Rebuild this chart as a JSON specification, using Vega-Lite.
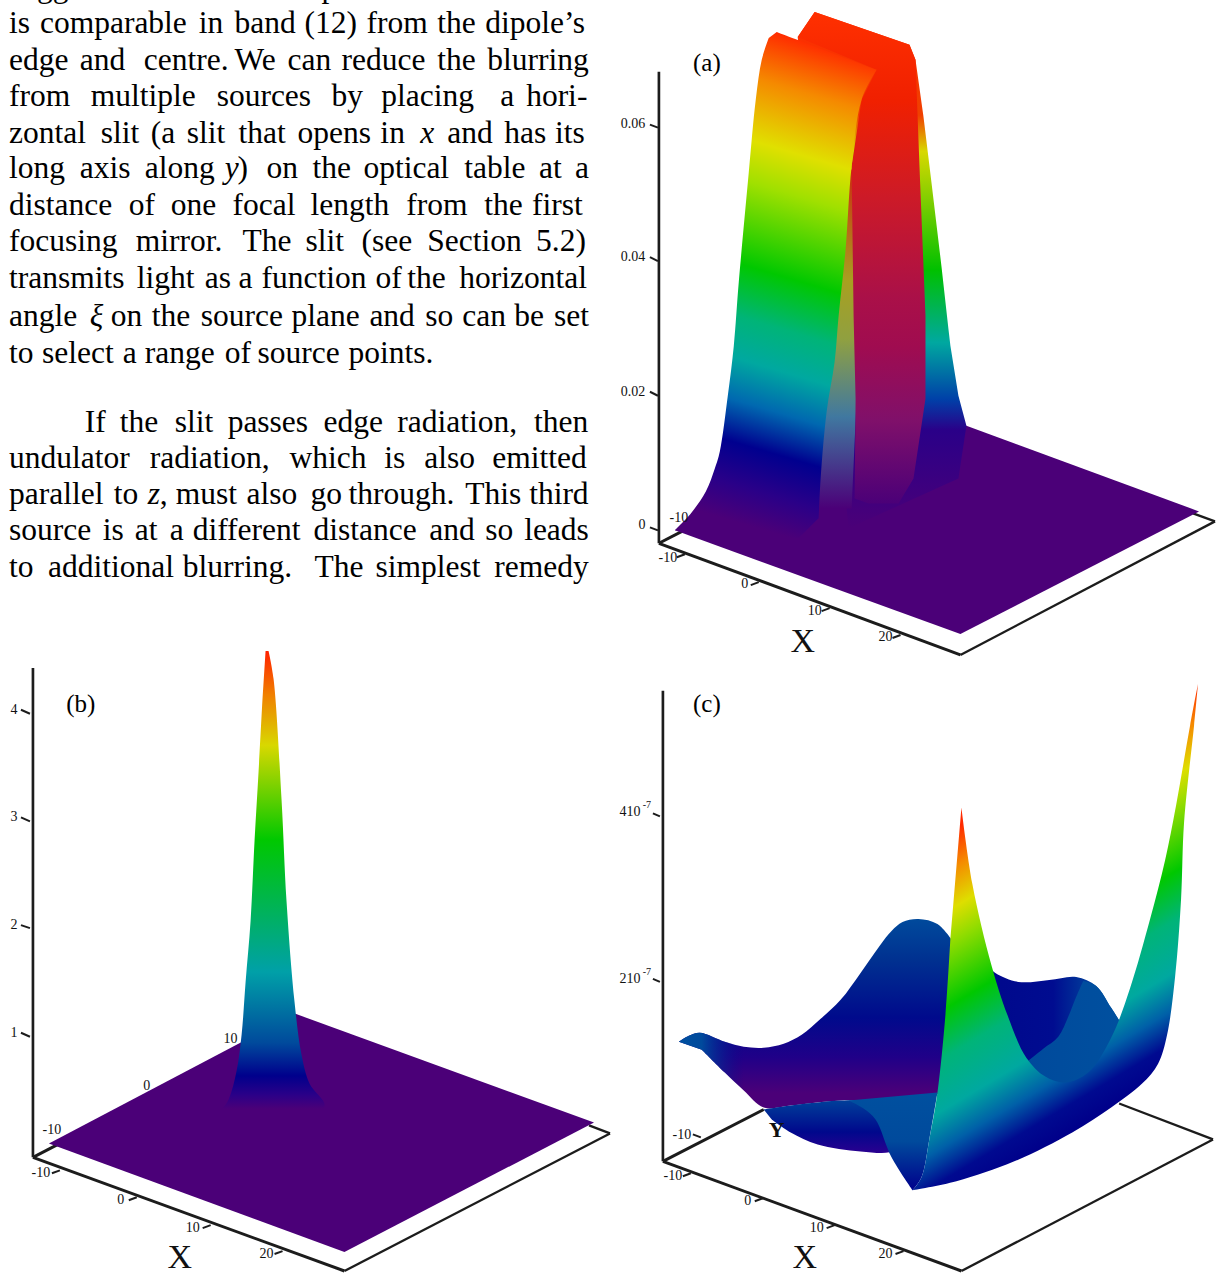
{"$schema":"https://vega.github.io/schema/vega-lite/v6.json","width":1217,"height":1275,"padding":0,"autosize":{"type":"fit","contains":"padding"},"background":"white","view":{"stroke":null},
"datasets":{
"rules":[
{"k":"thick","x":660,"y":545,"x2":962,"y2":657},{"k":"thin","x":962,"y":657,"x2":1217,"y2":523},{"k":"thin","x":1217,"y":523,"x2":1195,"y2":515},{"k":"mid","x":660,"y":72,"x2":660,"y2":545},{"k":"thick","x":660,"y":545,"x2":685,"y2":532},
{"k":"tick","x":651,"y":125,"x2":659,"y2":128},{"k":"tick","x":651,"y":258,"x2":659,"y2":262},{"k":"tick","x":651,"y":393,"x2":659,"y2":397},{"k":"tick","x":651,"y":529,"x2":659,"y2":532},
{"k":"tick","x":678,"y":559,"x2":686,"y2":556},{"k":"tick","x":752,"y":587,"x2":760,"y2":584},{"k":"tick","x":823,"y":613,"x2":831,"y2":610},{"k":"tick","x":894,"y":640,"x2":902,"y2":637},
{"k":"thick","x":33,"y":1161,"x2":345,"y2":1275},{"k":"thin","x":345,"y":1275,"x2":611,"y2":1137},{"k":"thin","x":611,"y":1137,"x2":590,"y2":1129},{"k":"mid","x":33,"y":670,"x2":33,"y2":1161},{"k":"thick","x":33,"y":1161,"x2":60,"y2":1147},
{"k":"tick","x":21,"y":712,"x2":30,"y2":716},{"k":"tick","x":21,"y":820,"x2":30,"y2":824},{"k":"tick","x":21,"y":928,"x2":30,"y2":931},{"k":"tick","x":21,"y":1036,"x2":30,"y2":1040},
{"k":"tick","x":52,"y":1177,"x2":60,"y2":1174},{"k":"tick","x":129,"y":1204,"x2":137,"y2":1201},{"k":"tick","x":203,"y":1232,"x2":211,"y2":1229},{"k":"tick","x":275,"y":1258,"x2":283,"y2":1255},
{"k":"thick","x":664,"y":1165,"x2":963,"y2":1275},{"k":"thin","x":963,"y":1275,"x2":1215,"y2":1143},{"k":"thin","x":1215,"y":1143,"x2":1121,"y2":1107},{"k":"mid","x":664,"y":693,"x2":664,"y2":1165},{"k":"thick","x":664,"y":1165,"x2":765,"y2":1113},
{"k":"tick","x":654,"y":816,"x2":661,"y2":819},{"k":"tick","x":654,"y":982,"x2":661,"y2":985},{"k":"tick","x":694,"y":1138,"x2":702,"y2":1141},
{"k":"tick","x":684,"y":1180,"x2":692,"y2":1177},{"k":"tick","x":756,"y":1205,"x2":764,"y2":1202},{"k":"tick","x":828,"y":1232,"x2":836,"y2":1229},{"k":"tick","x":897,"y":1258,"x2":905,"y2":1255}
],
"shapes":[
{"s":"a_plane","i":0,"x":676,"y":532},{"s":"a_plane","i":1,"x":962,"y":636},{"s":"a_plane","i":2,"x":1201,"y":513},{"s":"a_plane","i":3,"x":968,"y":427},{"s":"a_plane","i":4,"x":780,"y":430},
{"s":"a_back","i":0,"x":799,"y":37},{"s":"a_back","i":1,"x":816,"y":12},{"s":"a_back","i":2,"x":911,"y":45},{"s":"a_back","i":3,"x":917,"y":60},{"s":"a_back","i":4,"x":925,"y":117},{"s":"a_back","i":5,"x":933,"y":183},{"s":"a_back","i":6,"x":943,"y":267},{"s":"a_back","i":7,"x":950,"y":330},{"s":"a_back","i":8,"x":952,"y":347},{"s":"a_back","i":9,"x":960,"y":397},{"s":"a_back","i":10,"x":968,"y":427},{"s":"a_back","i":11,"x":960,"y":480},{"s":"a_back","i":12,"x":850,"y":530},
{"s":"a_lf","i":0,"x":848,"y":170},{"s":"a_lf","i":1,"x":856,"y":170},{"s":"a_lf","i":2,"x":856,"y":317},{"s":"a_lf","i":3,"x":858,"y":400},{"s":"a_lf","i":4,"x":853,"y":510},{"s":"a_lf","i":5,"x":815,"y":510},{"s":"a_lf","i":6,"x":822,"y":400},{"s":"a_lf","i":7,"x":832,"y":317},
{"s":"a_strip","i":0,"x":799,"y":37},{"s":"a_strip","i":1,"x":816,"y":12},{"s":"a_strip","i":2,"x":911,"y":45},{"s":"a_strip","i":3,"x":917,"y":60},{"s":"a_strip","i":4,"x":921,"y":167},{"s":"a_strip","i":5,"x":925,"y":267},{"s":"a_strip","i":6,"x":927,"y":317},{"s":"a_strip","i":7,"x":927,"y":400},{"s":"a_strip","i":8,"x":915,"y":480},{"s":"a_strip","i":9,"x":900,"y":505},{"s":"a_strip","i":10,"x":870,"y":505},{"s":"a_strip","i":11,"x":856,"y":500},{"s":"a_strip","i":12,"x":857,"y":400},{"s":"a_strip","i":13,"x":855,"y":317},{"s":"a_strip","i":14,"x":853,"y":167},{"s":"a_strip","i":15,"x":863,"y":100},{"s":"a_strip","i":16,"x":878,"y":70},
{"s":"a_face","i":0,"x":778,"y":32},{"s":"a_face","i":1,"x":778,"y":32},{"s":"a_face","i":2,"x":878,"y":70},{"s":"a_face","i":3,"x":878,"y":70},{"s":"a_face","i":4,"x":863,"y":100},{"s":"a_face","i":5,"x":853,"y":167},{"s":"a_face","i":6,"x":847,"y":250},{"s":"a_face","i":7,"x":840,"y":317},{"s":"a_face","i":8,"x":836,"y":363},{"s":"a_face","i":9,"x":828,"y":413},{"s":"a_face","i":10,"x":822,"y":480},{"s":"a_face","i":11,"x":820,"y":520},{"s":"a_face","i":12,"x":820,"y":520},{"s":"a_face","i":13,"x":800,"y":540},{"s":"a_face","i":14,"x":800,"y":540},{"s":"a_face","i":15,"x":720,"y":540},{"s":"a_face","i":16,"x":720,"y":540},{"s":"a_face","i":17,"x":676,"y":532},{"s":"a_face","i":18,"x":676,"y":532},{"s":"a_face","i":19,"x":692,"y":515},{"s":"a_face","i":20,"x":707,"y":493},{"s":"a_face","i":21,"x":716,"y":470},{"s":"a_face","i":22,"x":721,"y":453},{"s":"a_face","i":23,"x":729,"y":397},{"s":"a_face","i":24,"x":735,"y":347},{"s":"a_face","i":25,"x":740,"y":283},{"s":"a_face","i":26,"x":750,"y":173},{"s":"a_face","i":27,"x":757,"y":100},{"s":"a_face","i":28,"x":763,"y":60},{"s":"a_face","i":29,"x":770,"y":38},
{"s":"b_plane","i":0,"x":49,"y":1147},{"s":"b_plane","i":1,"x":345,"y":1256},{"s":"b_plane","i":2,"x":595,"y":1126},{"s":"b_plane","i":3,"x":296,"y":1017},
{"s":"b_peak","i":0,"x":266,"y":653},{"s":"b_peak","i":1,"x":266,"y":653},{"s":"b_peak","i":2,"x":269,"y":653},{"s":"b_peak","i":3,"x":269,"y":653},{"s":"b_peak","i":4,"x":274,"y":681},{"s":"b_peak","i":5,"x":282,"y":802},{"s":"b_peak","i":6,"x":287,"y":904},{"s":"b_peak","i":7,"x":295,"y":1005},{"s":"b_peak","i":8,"x":302,"y":1058},{"s":"b_peak","i":9,"x":310,"y":1087},{"s":"b_peak","i":10,"x":325,"y":1110},{"s":"b_peak","i":11,"x":270,"y":1125},{"s":"b_peak","i":12,"x":218,"y":1122},{"s":"b_peak","i":13,"x":229,"y":1103},{"s":"b_peak","i":14,"x":237,"y":1074},{"s":"b_peak","i":15,"x":242,"y":1038},{"s":"b_peak","i":16,"x":246,"y":985},{"s":"b_peak","i":17,"x":251,"y":924},{"s":"b_peak","i":18,"x":255,"y":843},{"s":"b_peak","i":19,"x":259,"y":774},{"s":"b_peak","i":20,"x":263,"y":700},
{"s":"c_back","i":0,"x":680,"y":1045},{"s":"c_back","i":1,"x":680,"y":1045},{"s":"c_back","i":2,"x":690,"y":1039},{"s":"c_back","i":3,"x":701,"y":1036},{"s":"c_back","i":4,"x":726,"y":1045},{"s":"c_back","i":5,"x":745,"y":1050},{"s":"c_back","i":6,"x":765,"y":1051},{"s":"c_back","i":7,"x":785,"y":1047},{"s":"c_back","i":8,"x":803,"y":1038},{"s":"c_back","i":9,"x":822,"y":1022},{"s":"c_back","i":10,"x":842,"y":1003},{"s":"c_back","i":11,"x":862,"y":976},{"s":"c_back","i":12,"x":881,"y":949},{"s":"c_back","i":13,"x":893,"y":934},{"s":"c_back","i":14,"x":904,"y":925},{"s":"c_back","i":15,"x":920,"y":922},{"s":"c_back","i":16,"x":939,"y":927},{"s":"c_back","i":17,"x":952,"y":941},{"s":"c_back","i":18,"x":952,"y":941},{"s":"c_back","i":19,"x":1000,"y":1000},{"s":"c_back","i":20,"x":1000,"y":1000},{"s":"c_back","i":21,"x":980,"y":1095},{"s":"c_back","i":22,"x":980,"y":1095},{"s":"c_back","i":23,"x":939,"y":1098},{"s":"c_back","i":24,"x":881,"y":1104},{"s":"c_back","i":25,"x":842,"y":1104},{"s":"c_back","i":26,"x":792,"y":1109},{"s":"c_back","i":27,"x":765,"y":1111},{"s":"c_back","i":28,"x":745,"y":1094},{"s":"c_back","i":29,"x":726,"y":1076},{"s":"c_back","i":30,"x":703,"y":1053},
{"s":"c_tip","i":0,"x":680,"y":1045},{"s":"c_tip","i":1,"x":680,"y":1045},{"s":"c_tip","i":2,"x":690,"y":1039},{"s":"c_tip","i":3,"x":701,"y":1036},{"s":"c_tip","i":4,"x":726,"y":1045},{"s":"c_tip","i":5,"x":745,"y":1050},{"s":"c_tip","i":6,"x":745,"y":1050},{"s":"c_tip","i":7,"x":745,"y":1094},{"s":"c_tip","i":8,"x":745,"y":1094},{"s":"c_tip","i":9,"x":726,"y":1076},{"s":"c_tip","i":10,"x":703,"y":1053},
{"s":"c_rb","i":0,"x":985,"y":965},{"s":"c_rb","i":1,"x":985,"y":965},{"s":"c_rb","i":2,"x":997,"y":976},{"s":"c_rb","i":3,"x":1020,"y":985},{"s":"c_rb","i":4,"x":1051,"y":983},{"s":"c_rb","i":5,"x":1078,"y":980},{"s":"c_rb","i":6,"x":1098,"y":989},{"s":"c_rb","i":7,"x":1113,"y":1011},{"s":"c_rb","i":8,"x":1125,"y":1030},{"s":"c_rb","i":9,"x":1125,"y":1030},{"s":"c_rb","i":10,"x":1125,"y":1090},{"s":"c_rb","i":11,"x":1125,"y":1090},{"s":"c_rb","i":12,"x":1047,"y":1100},{"s":"c_rb","i":13,"x":1047,"y":1100},{"s":"c_rb","i":14,"x":1010,"y":1040},{"s":"c_rb","i":15,"x":1000,"y":1020},
{"s":"c_wedge","i":0,"x":1030,"y":1064},{"s":"c_wedge","i":1,"x":1030,"y":1064},{"s":"c_wedge","i":2,"x":1045,"y":1052},{"s":"c_wedge","i":3,"x":1060,"y":1040},{"s":"c_wedge","i":4,"x":1070,"y":1020},{"s":"c_wedge","i":5,"x":1078,"y":1000},{"s":"c_wedge","i":6,"x":1085,"y":984},{"s":"c_wedge","i":7,"x":1085,"y":984},{"s":"c_wedge","i":8,"x":1098,"y":989},{"s":"c_wedge","i":9,"x":1113,"y":1011},{"s":"c_wedge","i":10,"x":1125,"y":1030},{"s":"c_wedge","i":11,"x":1125,"y":1030},{"s":"c_wedge","i":12,"x":1125,"y":1090},{"s":"c_wedge","i":13,"x":1125,"y":1090},{"s":"c_wedge","i":14,"x":1047,"y":1100},{"s":"c_wedge","i":15,"x":1047,"y":1100},
{"s":"c_bowl","i":0,"x":765,"y":1113},{"s":"c_bowl","i":1,"x":765,"y":1113},{"s":"c_bowl","i":2,"x":792,"y":1109},{"s":"c_bowl","i":3,"x":842,"y":1104},{"s":"c_bowl","i":4,"x":880,"y":1104},{"s":"c_bowl","i":5,"x":880,"y":1104},{"s":"c_bowl","i":6,"x":905,"y":1150},{"s":"c_bowl","i":7,"x":905,"y":1150},{"s":"c_bowl","i":8,"x":891,"y":1156},{"s":"c_bowl","i":9,"x":862,"y":1155},{"s":"c_bowl","i":10,"x":819,"y":1148},{"s":"c_bowl","i":11,"x":792,"y":1136},{"s":"c_bowl","i":12,"x":773,"y":1123},
{"s":"c_flap","i":0,"x":850,"y":1104},{"s":"c_flap","i":1,"x":850,"y":1104},{"s":"c_flap","i":2,"x":865,"y":1112},{"s":"c_flap","i":3,"x":877,"y":1123},{"s":"c_flap","i":4,"x":893,"y":1161},{"s":"c_flap","i":5,"x":914,"y":1194},{"s":"c_flap","i":6,"x":914,"y":1194},{"s":"c_flap","i":7,"x":923,"y":1181},{"s":"c_flap","i":8,"x":931,"y":1142},{"s":"c_flap","i":9,"x":939,"y":1096},{"s":"c_flap","i":10,"x":939,"y":1096},
{"s":"c_front","i":0,"x":963,"y":810},{"s":"c_front","i":1,"x":963,"y":810},{"s":"c_front","i":2,"x":974,"y":887},{"s":"c_front","i":3,"x":993,"y":968},{"s":"c_front","i":4,"x":1009,"y":1018},{"s":"c_front","i":5,"x":1028,"y":1061},{"s":"c_front","i":6,"x":1047,"y":1080},{"s":"c_front","i":7,"x":1067,"y":1086},{"s":"c_front","i":8,"x":1090,"y":1076},{"s":"c_front","i":9,"x":1113,"y":1041},{"s":"c_front","i":10,"x":1132,"y":991},{"s":"c_front","i":11,"x":1152,"y":922},{"s":"c_front","i":12,"x":1167,"y":863},{"s":"c_front","i":13,"x":1178,"y":808},{"s":"c_front","i":14,"x":1192,"y":728},{"s":"c_front","i":15,"x":1200,"y":686},{"s":"c_front","i":16,"x":1200,"y":686},{"s":"c_front","i":17,"x":1196,"y":728},{"s":"c_front","i":18,"x":1186,"y":825},{"s":"c_front","i":19,"x":1183,"y":902},{"s":"c_front","i":20,"x":1177,"y":980},{"s":"c_front","i":21,"x":1169,"y":1038},{"s":"c_front","i":22,"x":1160,"y":1067},{"s":"c_front","i":23,"x":1144,"y":1087},{"s":"c_front","i":24,"x":1113,"y":1111},{"s":"c_front","i":25,"x":1074,"y":1136},{"s":"c_front","i":26,"x":1016,"y":1165},{"s":"c_front","i":27,"x":958,"y":1185},{"s":"c_front","i":28,"x":914,"y":1194},{"s":"c_front","i":29,"x":914,"y":1194},{"s":"c_front","i":30,"x":923,"y":1181},{"s":"c_front","i":31,"x":931,"y":1142},{"s":"c_front","i":32,"x":939,"y":1096},{"s":"c_front","i":33,"x":947,"y":1018},{"s":"c_front","i":34,"x":952,"y":941}
],
"labels":[
{"k":"tick","t":"0.06","x":634,"y":124},{"k":"tick","t":"0.04","x":634,"y":258},{"k":"tick","t":"0.02","x":634,"y":393},{"k":"tick","t":"0","x":643,"y":527},{"k":"tick","t":"-10","x":680,"y":520},{"k":"tick","t":"-10","x":669,"y":560},{"k":"tick","t":"0","x":746,"y":586},{"k":"tick","t":"10","x":816,"y":613},{"k":"tick","t":"20","x":887,"y":639},
{"k":"tick","t":"4","x":14,"y":712},{"k":"tick","t":"3","x":14,"y":820},{"k":"tick","t":"2","x":14,"y":928},{"k":"tick","t":"1","x":14,"y":1036},{"k":"tick","t":"10","x":231,"y":1042},{"k":"tick","t":"0","x":147,"y":1089},{"k":"tick","t":"-10","x":52,"y":1134},{"k":"tick","t":"-10","x":41,"y":1177},{"k":"tick","t":"0","x":121,"y":1204},{"k":"tick","t":"10","x":193,"y":1232},{"k":"tick","t":"20","x":267,"y":1258},
{"k":"tick","t":"410","x":631,"y":815},{"k":"tick","t":"210","x":631,"y":982},{"k":"tick","t":"-10","x":683,"y":1139},{"k":"tick","t":"-10","x":674,"y":1180},{"k":"tick","t":"0","x":749,"y":1205},{"k":"tick","t":"10","x":818,"y":1232},{"k":"tick","t":"20","x":887,"y":1258},
{"k":"sup","t":"-7","x":648,"y":808},{"k":"sup","t":"-7","x":648,"y":975},
{"k":"panel","t":"(a)","x":708,"y":63},{"k":"panel","t":"(b)","x":81,"y":706},{"k":"panel","t":"(c)","x":708,"y":706},
{"k":"axis","t":"X","x":804,"y":644},{"k":"axis","t":"X","x":180,"y":1262},{"k":"axis","t":"X","x":806,"y":1262},{"k":"axisY","t":"Y","x":778,"y":1134}
],
"words":[
{"t":"suggest","x":9,"y":-4},{"t":"point","x":322,"y":-4},
{"t":"is","x":9,"y":32},{"t":"comparable","x":40,"y":32},{"t":"in","x":199,"y":32},{"t":"band","x":235,"y":32},{"t":"(12)","x":305,"y":32},{"t":"from","x":367,"y":32},{"t":"the","x":438,"y":32},{"t":"dipole’s","x":486,"y":32},
{"t":"edge","x":9,"y":69},{"t":"and","x":80,"y":69},{"t":"centre.","x":144,"y":69},{"t":"We","x":235,"y":69},{"t":"can","x":288,"y":69},{"t":"reduce","x":342,"y":69},{"t":"the","x":438,"y":69},{"t":"blurring","x":488,"y":69},
{"t":"from","x":9,"y":105},{"t":"multiple","x":91,"y":105},{"t":"sources","x":217,"y":105},{"t":"by","x":332,"y":105},{"t":"placing","x":382,"y":105},{"t":"a","x":501,"y":105},{"t":"hori-","x":527,"y":105},
{"t":"zontal","x":9,"y":142},{"t":"slit","x":101,"y":142},{"t":"(a","x":151,"y":142},{"t":"slit","x":187,"y":142},{"t":"that","x":239,"y":142},{"t":"opens","x":298,"y":142},{"t":"in","x":381,"y":142},{"t":"x","x":421,"y":142,"i":1},{"t":"and","x":448,"y":142},{"t":"has","x":505,"y":142},{"t":"its","x":556,"y":142},
{"t":"long","x":9,"y":178},{"t":"axis","x":80,"y":178},{"t":"along","x":145,"y":178},{"t":"y","x":225,"y":178,"i":1},{"t":")","x":238,"y":178},{"t":"on","x":267,"y":178},{"t":"the","x":313,"y":178},{"t":"optical","x":364,"y":178},{"t":"table","x":465,"y":178},{"t":"at","x":540,"y":178},{"t":"a","x":576,"y":178},
{"t":"distance","x":9,"y":215},{"t":"of","x":129,"y":215},{"t":"one","x":171,"y":215},{"t":"focal","x":233,"y":215},{"t":"length","x":311,"y":215},{"t":"from","x":407,"y":215},{"t":"the","x":485,"y":215},{"t":"first","x":533,"y":215},
{"t":"focusing","x":9,"y":251},{"t":"mirror.","x":136,"y":251},{"t":"The","x":243,"y":251},{"t":"slit","x":306,"y":251},{"t":"(see","x":362,"y":251},{"t":"Section","x":428,"y":251},{"t":"5.2)","x":537,"y":251},
{"t":"transmits","x":9,"y":288},{"t":"light","x":137,"y":288},{"t":"as","x":205,"y":288},{"t":"a","x":239,"y":288},{"t":"function","x":262,"y":288},{"t":"of","x":376,"y":288},{"t":"the","x":408,"y":288},{"t":"horizontal","x":460,"y":288},
{"t":"angle","x":9,"y":326},{"t":"ξ","x":90,"y":326,"i":1},{"t":"on","x":111,"y":326},{"t":"the","x":152,"y":326},{"t":"source","x":201,"y":326},{"t":"plane","x":292,"y":326},{"t":"and","x":370,"y":326},{"t":"so","x":426,"y":326},{"t":"can","x":463,"y":326},{"t":"be","x":515,"y":326},{"t":"set","x":555,"y":326},
{"t":"to","x":9,"y":363},{"t":"select","x":42,"y":363},{"t":"a","x":123,"y":363},{"t":"range","x":145,"y":363},{"t":"of","x":225,"y":363},{"t":"source","x":258,"y":363},{"t":"points.","x":349,"y":363},
{"t":"If","x":85,"y":432},{"t":"the","x":120,"y":432},{"t":"slit","x":175,"y":432},{"t":"passes","x":228,"y":432},{"t":"edge","x":324,"y":432},{"t":"radiation,","x":398,"y":432},{"t":"then","x":535,"y":432},
{"t":"undulator","x":9,"y":468},{"t":"radiation,","x":150,"y":468},{"t":"which","x":290,"y":468},{"t":"is","x":385,"y":468},{"t":"also","x":425,"y":468},{"t":"emitted","x":493,"y":468},
{"t":"parallel","x":9,"y":505},{"t":"to","x":114,"y":505},{"t":"z","x":148,"y":505,"i":1},{"t":",","x":160,"y":505},{"t":"must","x":176,"y":505},{"t":"also","x":247,"y":505},{"t":"go","x":311,"y":505},{"t":"through.","x":349,"y":505},{"t":"This","x":466,"y":505},{"t":"third","x":530,"y":505},
{"t":"source","x":9,"y":541},{"t":"is","x":103,"y":541},{"t":"at","x":135,"y":541},{"t":"a","x":170,"y":541},{"t":"different","x":193,"y":541},{"t":"distance","x":314,"y":541},{"t":"and","x":430,"y":541},{"t":"so","x":486,"y":541},{"t":"leads","x":525,"y":541},
{"t":"to","x":9,"y":578},{"t":"additional","x":48,"y":578},{"t":"blurring.","x":183,"y":578},{"t":"The","x":315,"y":578},{"t":"simplest","x":376,"y":578},{"t":"remedy","x":495,"y":578}
]},
"encoding":{"x":{"field":"x","type":"quantitative","scale":{"domain":[0,1217]},"axis":null},"y":{"field":"y","type":"quantitative","scale":{"domain":[1275,0]},"axis":null}},
"layer":[
{"data":{"name":"rules"},"mark":{"type":"rule","color":"#1c1c1c"},"encoding":{"x2":{"field":"x2"},"y2":{"field":"y2"},"strokeWidth":{"field":"k","type":"nominal","scale":{"domain":["thick","mid","thin","tick"],"range":[3,2,1.5,1.2]},"legend":null}}},
{"data":{"name":"shapes"},"transform":[{"filter":"datum.s==='a_plane'"}],"mark":{"type":"line","fill":"#4b0078","strokeWidth":0},"encoding":{"order":{"field":"i"}}},
{"data":{"name":"shapes"},"transform":[{"filter":"datum.s==='a_back'"}],"mark":{"type":"line","strokeWidth":0,"fill":{"gradient":"linear","x1":0,"y1":0,"x2":0,"y2":1,"stops":[{"offset":0,"color":"#ff2a00"},{"offset":0.2,"color":"#f04000"},{"offset":0.27,"color":"#d8d800"},{"offset":0.5,"color":"#00c000"},{"offset":0.64,"color":"#00a8a0"},{"offset":0.75,"color":"#0040a8"},{"offset":0.81,"color":"#2a0088"},{"offset":1,"color":"#4b0078"}]}},"encoding":{"order":{"field":"i"}}},
{"data":{"name":"shapes"},"transform":[{"filter":"datum.s==='a_lf'"}],"mark":{"type":"line","strokeWidth":0,"fill":{"gradient":"linear","x1":0,"y1":0,"x2":0,"y2":1,"stops":[{"offset":0,"color":"#cc2a10"},{"offset":0.33,"color":"#a8a020"},{"offset":0.5,"color":"#90a040"},{"offset":0.73,"color":"#4078a0"},{"offset":1,"color":"#4b0078"}]}},"encoding":{"order":{"field":"i"}}},
{"data":{"name":"shapes"},"transform":[{"filter":"datum.s==='a_strip'"}],"mark":{"type":"line","strokeWidth":0,"fill":{"gradient":"linear","x1":0,"y1":0,"x2":0,"y2":1,"stops":[{"offset":0,"color":"#ff3000"},{"offset":0.18,"color":"#f02000"},{"offset":0.38,"color":"#cc1a28"},{"offset":0.58,"color":"#aa1048"},{"offset":0.68,"color":"#a00c50"},{"offset":0.83,"color":"#80106a"},{"offset":1,"color":"#4b0078"}]}},"encoding":{"order":{"field":"i"}}},
{"data":{"name":"shapes"},"transform":[{"filter":"datum.s==='a_face'"}],"mark":{"type":"line","interpolate":"catmull-rom","strokeWidth":0,"fill":{"gradient":"linear","x1":0.51,"y1":0,"x2":0.39,"y2":1.03,"stops":[{"offset":0,"color":"#ff2a00"},{"offset":0.1,"color":"#f58a00"},{"offset":0.22,"color":"#e0e000"},{"offset":0.3,"color":"#a0e000"},{"offset":0.46,"color":"#00c800"},{"offset":0.56,"color":"#00b478"},{"offset":0.64,"color":"#00a8a0"},{"offset":0.72,"color":"#0068b0"},{"offset":0.8,"color":"#00008f"},{"offset":0.88,"color":"#2a0088"},{"offset":0.95,"color":"#4b0078"},{"offset":1,"color":"#4b0078"}]}},"encoding":{"order":{"field":"i"}}},
{"data":{"name":"shapes"},"transform":[{"filter":"datum.s==='b_plane'"}],"mark":{"type":"line","fill":"#4b0078","strokeWidth":0},"encoding":{"order":{"field":"i"}}},
{"data":{"name":"shapes"},"transform":[{"filter":"datum.s==='b_peak'"}],"mark":{"type":"line","interpolate":"catmull-rom","strokeWidth":0,"fill":{"gradient":"linear","x1":0,"y1":0,"x2":0,"y2":1,"stops":[{"offset":0,"color":"#ff2000"},{"offset":0.093,"color":"#f08000"},{"offset":0.2,"color":"#d8d800"},{"offset":0.4,"color":"#00c800"},{"offset":0.68,"color":"#00a0a8"},{"offset":0.83,"color":"#004a9c"},{"offset":0.9,"color":"#00008c"},{"offset":0.94,"color":"#2a0088"},{"offset":0.97,"color":"#4b0078"},{"offset":1,"color":"#4b0078"}]}},"encoding":{"order":{"field":"i"}}},
{"data":{"name":"shapes"},"transform":[{"filter":"datum.s==='c_back'"}],"mark":{"type":"line","interpolate":"catmull-rom","strokeWidth":0,"fill":{"gradient":"linear","x1":0,"y1":0,"x2":0,"y2":1,"stops":[{"offset":0,"color":"#004a9c"},{"offset":0.22,"color":"#003090"},{"offset":0.52,"color":"#000a8c"},{"offset":0.73,"color":"#200088"},{"offset":0.92,"color":"#4b0078"},{"offset":1,"color":"#4b0078"}]}},"encoding":{"order":{"field":"i"}}},
{"data":{"name":"shapes"},"transform":[{"filter":"datum.s==='c_tip'"}],"mark":{"type":"line","interpolate":"catmull-rom","strokeWidth":0,"fill":{"gradient":"linear","x1":0,"y1":0,"x2":1,"y2":0,"stops":[{"offset":0,"color":"#00509f"},{"offset":0.35,"color":"#004a9c"},{"offset":1,"color":"rgba(0,10,140,0)"}]}},"encoding":{"order":{"field":"i"}}},
{"data":{"name":"shapes"},"transform":[{"filter":"datum.s==='c_rb'"}],"mark":{"type":"line","interpolate":"catmull-rom","strokeWidth":0,"fill":{"gradient":"linear","x1":0,"y1":0,"x2":1,"y2":0,"stops":[{"offset":0,"color":"#00088c"},{"offset":0.5,"color":"#000c90"},{"offset":0.85,"color":"#00509f"},{"offset":1,"color":"#00509f"}]}},"encoding":{"order":{"field":"i"}}},
{"data":{"name":"shapes"},"transform":[{"filter":"datum.s==='c_wedge'"}],"mark":{"type":"line","interpolate":"catmull-rom","strokeWidth":0,"fill":{"gradient":"linear","x1":0,"y1":0,"x2":1,"y2":0,"stops":[{"offset":0,"color":"#004a9c"},{"offset":1,"color":"#00509f"}]}},"encoding":{"order":{"field":"i"}}},
{"data":{"name":"shapes"},"transform":[{"filter":"datum.s==='c_bowl'"}],"mark":{"type":"line","interpolate":"catmull-rom","strokeWidth":0,"fill":{"gradient":"linear","x1":0,"y1":0,"x2":0,"y2":1,"stops":[{"offset":0,"color":"#00409a"},{"offset":0.6,"color":"#00088c"},{"offset":1,"color":"#2a0090"}]}},"encoding":{"order":{"field":"i"}}},
{"data":{"name":"shapes"},"transform":[{"filter":"datum.s==='c_flap'"}],"mark":{"type":"line","interpolate":"catmull-rom","strokeWidth":0,"fill":{"gradient":"linear","x1":0,"y1":0,"x2":0,"y2":1,"stops":[{"offset":0,"color":"#00509f"},{"offset":0.5,"color":"#004a9c"},{"offset":1,"color":"#00008c"}]}},"encoding":{"order":{"field":"i"}}},
{"data":{"name":"shapes"},"transform":[{"filter":"datum.s==='c_front'"}],"mark":{"type":"line","interpolate":"catmull-rom","strokeWidth":0,"fill":{"gradient":"linear","x1":1,"y1":0,"x2":1.221,"y2":0.657,"stops":[{"offset":0,"color":"#ff2a00"},{"offset":0.1,"color":"#f58a00"},{"offset":0.21,"color":"#dede00"},{"offset":0.3,"color":"#90dc00"},{"offset":0.47,"color":"#00c800"},{"offset":0.6,"color":"#00b478"},{"offset":0.74,"color":"#00a8a0"},{"offset":0.84,"color":"#0060a8"},{"offset":0.93,"color":"#000a90"},{"offset":1,"color":"#00008a"}]}},"encoding":{"order":{"field":"i"}}},
{"data":{"name":"words"},"transform":[{"filter":"!datum.i"}],"mark":{"type":"text","font":"Liberation Serif","fontSize":31.5,"dy":1,"align":"left","baseline":"alphabetic","color":"#000","clip":true},"encoding":{"text":{"field":"t"}}},
{"data":{"name":"words"},"transform":[{"filter":"datum.i===1"}],"mark":{"type":"text","font":"Liberation Serif","fontStyle":"italic","fontSize":31.5,"dy":1,"align":"left","baseline":"alphabetic","color":"#000","clip":true},"encoding":{"text":{"field":"t"}}},
{"data":{"name":"labels"},"transform":[{"filter":"datum.k==='tick'"}],"mark":{"type":"text","font":"Liberation Serif","fontSize":14,"align":"center","baseline":"middle","color":"#111"},"encoding":{"text":{"field":"t"}}},
{"data":{"name":"labels"},"transform":[{"filter":"datum.k==='sup'"}],"mark":{"type":"text","font":"Liberation Serif","fontSize":10,"align":"center","baseline":"middle","color":"#111"},"encoding":{"text":{"field":"t"}}},
{"data":{"name":"labels"},"transform":[{"filter":"datum.k==='panel'"}],"mark":{"type":"text","font":"Liberation Serif","fontSize":25,"align":"center","baseline":"middle","color":"#000"},"encoding":{"text":{"field":"t"}}},
{"data":{"name":"labels"},"transform":[{"filter":"datum.k==='axis'"}],"mark":{"type":"text","font":"Liberation Serif","fontSize":34,"align":"center","baseline":"middle","color":"#111"},"encoding":{"text":{"field":"t"}}},
{"data":{"name":"labels"},"transform":[{"filter":"datum.k==='axisY'"}],"mark":{"type":"text","font":"Liberation Serif","fontWeight":"bold","fontSize":22,"align":"center","baseline":"middle","color":"#111"},"encoding":{"text":{"field":"t"}}}
]}
